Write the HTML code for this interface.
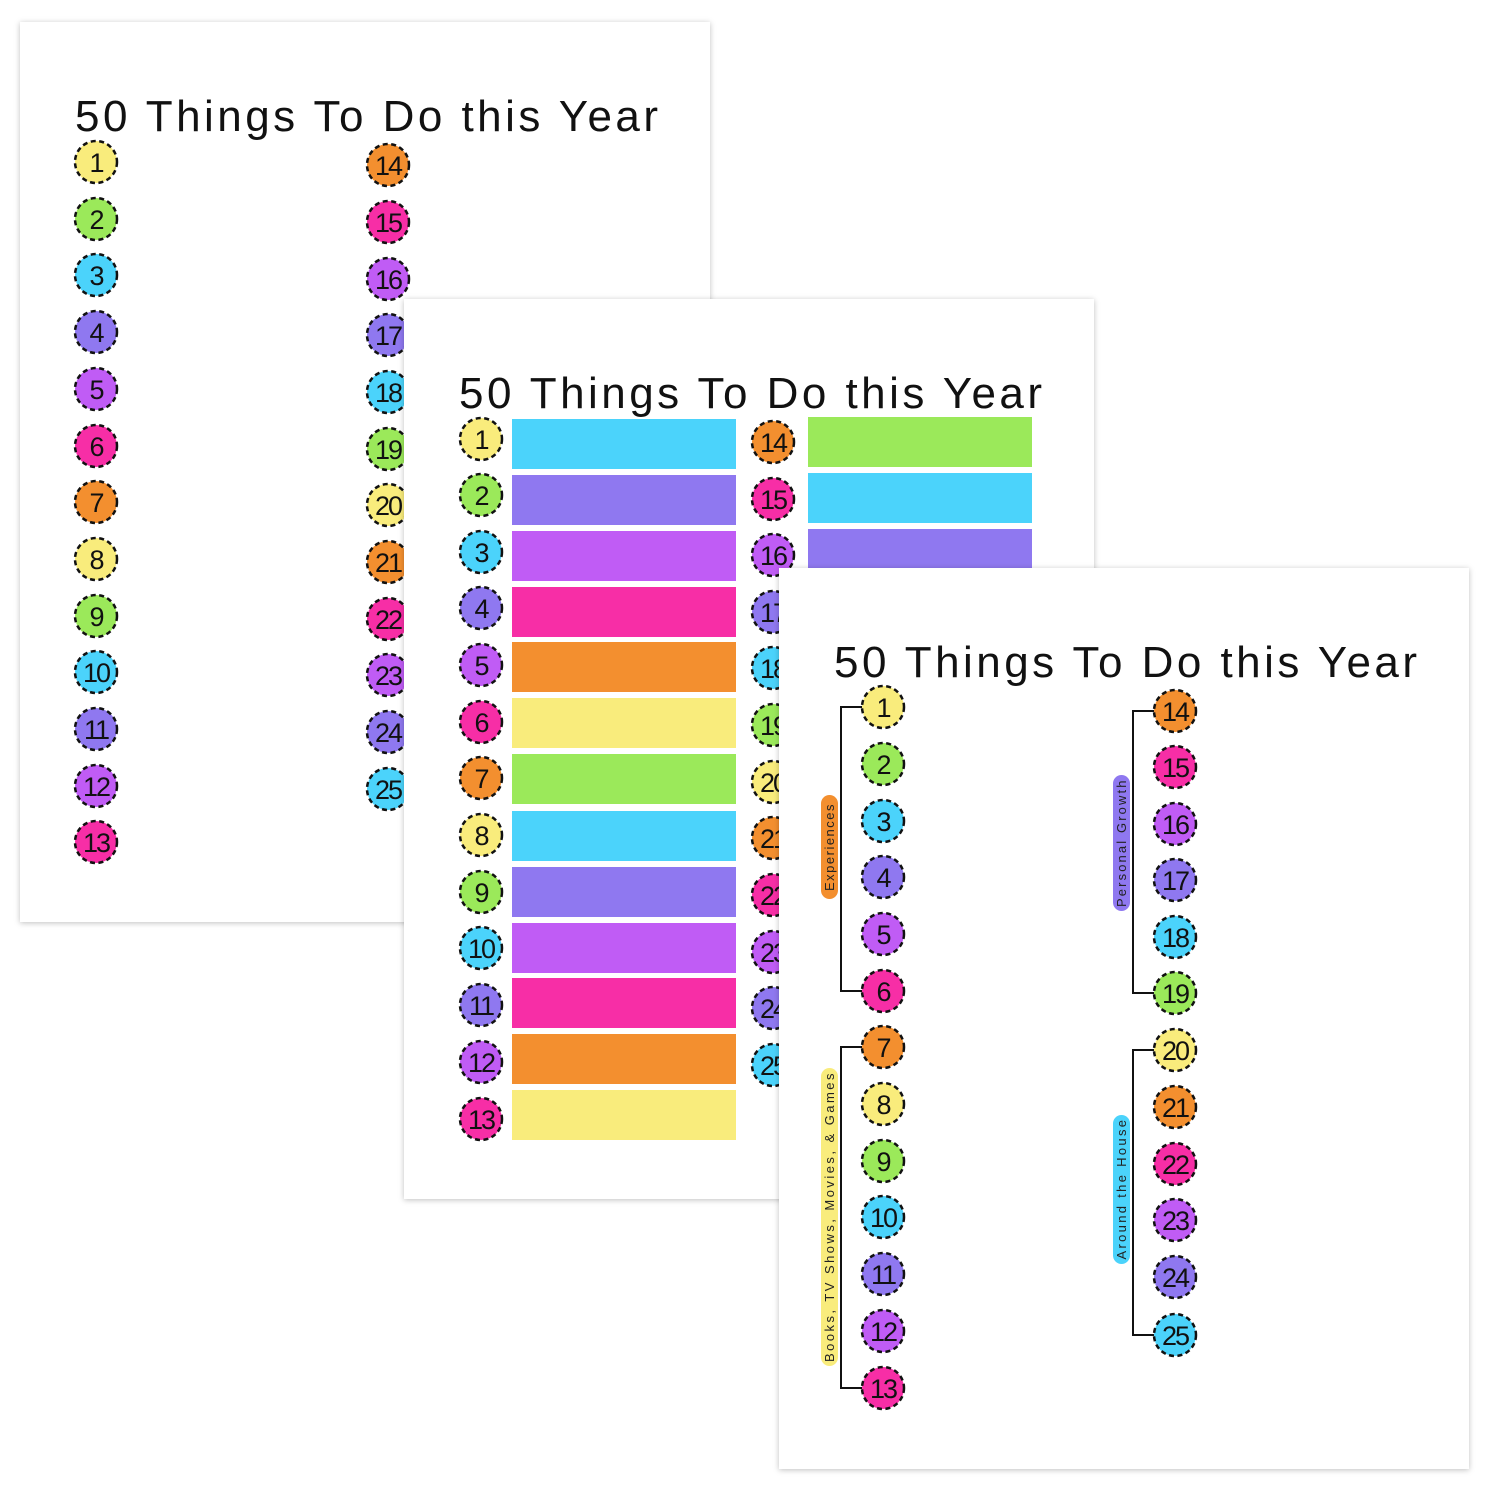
<!DOCTYPE html>
<html><head><meta charset="utf-8"><style>
html,body{margin:0;padding:0;background:#fff;}
svg{display:block;}
.t{font-family:"Liberation Sans",sans-serif;font-size:44px;fill:#111;}
.n{font-family:"Liberation Sans",sans-serif;font-size:27px;fill:#111;text-anchor:middle;letter-spacing:-2px;}
.c{stroke:#111;stroke-width:2.5;stroke-dasharray:5 3.5;}
.l{font-family:"Liberation Sans",sans-serif;font-size:13px;fill:#222;text-anchor:middle;letter-spacing:1.5px;}
</style></head><body>
<svg width="1500" height="1500" viewBox="0 0 1500 1500">
<defs><filter id="sh" x="-5%" y="-5%" width="110%" height="110%"><feDropShadow dx="0" dy="1" stdDeviation="3" flood-color="#000" flood-opacity="0.25"/></filter></defs>

<!-- Page 1 -->
<rect x="20" y="22" width="690" height="900" fill="#fff" filter="url(#sh)"/>
<text class="t" x="75" y="131" textLength="583">50 Things To Do this Year</text>
<g>
<circle class="c" cx="96" cy="162" r="21" fill="#f9ec7c"/><text class="n" x="96" y="172">1</text>
<circle class="c" cx="96" cy="219" r="21" fill="#9be95a"/><text class="n" x="96" y="229">2</text>
<circle class="c" cx="96" cy="275" r="21" fill="#4bd3fb"/><text class="n" x="96" y="285">3</text>
<circle class="c" cx="96" cy="332" r="21" fill="#8f78f0"/><text class="n" x="96" y="342">4</text>
<circle class="c" cx="96" cy="389" r="21" fill="#c05cf5"/><text class="n" x="96" y="399">5</text>
<circle class="c" cx="96" cy="446" r="21" fill="#f72ea6"/><text class="n" x="96" y="456">6</text>
<circle class="c" cx="96" cy="502" r="21" fill="#f38f2f"/><text class="n" x="96" y="512">7</text>
<circle class="c" cx="96" cy="559" r="21" fill="#f9ec7c"/><text class="n" x="96" y="569">8</text>
<circle class="c" cx="96" cy="616" r="21" fill="#9be95a"/><text class="n" x="96" y="626">9</text>
<circle class="c" cx="96" cy="672" r="21" fill="#4bd3fb"/><text class="n" x="96" y="682">10</text>
<circle class="c" cx="96" cy="729" r="21" fill="#8f78f0"/><text class="n" x="96" y="739">11</text>
<circle class="c" cx="96" cy="786" r="21" fill="#c05cf5"/><text class="n" x="96" y="796">12</text>
<circle class="c" cx="96" cy="842" r="21" fill="#f72ea6"/><text class="n" x="96" y="852">13</text>
<circle class="c" cx="388" cy="165" r="21" fill="#f38f2f"/><text class="n" x="388" y="175">14</text>
<circle class="c" cx="388" cy="222" r="21" fill="#f72ea6"/><text class="n" x="388" y="232">15</text>
<circle class="c" cx="388" cy="279" r="21" fill="#c05cf5"/><text class="n" x="388" y="289">16</text>
<circle class="c" cx="388" cy="335" r="21" fill="#8f78f0"/><text class="n" x="388" y="345">17</text>
<circle class="c" cx="388" cy="392" r="21" fill="#4bd3fb"/><text class="n" x="388" y="402">18</text>
<circle class="c" cx="388" cy="449" r="21" fill="#9be95a"/><text class="n" x="388" y="459">19</text>
<circle class="c" cx="388" cy="505" r="21" fill="#f9ec7c"/><text class="n" x="388" y="515">20</text>
<circle class="c" cx="388" cy="562" r="21" fill="#f38f2f"/><text class="n" x="388" y="572">21</text>
<circle class="c" cx="388" cy="619" r="21" fill="#f72ea6"/><text class="n" x="388" y="629">22</text>
<circle class="c" cx="388" cy="675" r="21" fill="#c05cf5"/><text class="n" x="388" y="685">23</text>
<circle class="c" cx="388" cy="732" r="21" fill="#8f78f0"/><text class="n" x="388" y="742">24</text>
<circle class="c" cx="388" cy="789" r="21" fill="#4bd3fb"/><text class="n" x="388" y="799">25</text>
</g>

<!-- Page 2 -->
<rect x="404" y="299" width="690" height="900" fill="#fff" filter="url(#sh)"/>
<text class="t" x="459" y="408" textLength="583">50 Things To Do this Year</text>
<g>
<rect x="512" y="419" width="224" height="50" fill="#4bd3fb"/>
<rect x="512" y="475" width="224" height="50" fill="#8f78f0"/>
<rect x="512" y="531" width="224" height="50" fill="#c05cf5"/>
<rect x="512" y="587" width="224" height="50" fill="#f72ea6"/>
<rect x="512" y="642" width="224" height="50" fill="#f38f2f"/>
<rect x="512" y="698" width="224" height="50" fill="#f9ec7c"/>
<rect x="512" y="754" width="224" height="50" fill="#9be95a"/>
<rect x="512" y="811" width="224" height="50" fill="#4bd3fb"/>
<rect x="512" y="867" width="224" height="50" fill="#8f78f0"/>
<rect x="512" y="923" width="224" height="50" fill="#c05cf5"/>
<rect x="512" y="978" width="224" height="50" fill="#f72ea6"/>
<rect x="512" y="1034" width="224" height="50" fill="#f38f2f"/>
<rect x="512" y="1090" width="224" height="50" fill="#f9ec7c"/>
<rect x="808" y="417" width="224" height="50" fill="#9be95a"/>
<rect x="808" y="473" width="224" height="50" fill="#4bd3fb"/>
<rect x="808" y="529" width="224" height="50" fill="#8f78f0"/>
<circle class="c" cx="481" cy="439" r="21" fill="#f9ec7c"/><text class="n" x="481" y="449">1</text>
<circle class="c" cx="481" cy="495" r="21" fill="#9be95a"/><text class="n" x="481" y="505">2</text>
<circle class="c" cx="481" cy="552" r="21" fill="#4bd3fb"/><text class="n" x="481" y="562">3</text>
<circle class="c" cx="481" cy="608" r="21" fill="#8f78f0"/><text class="n" x="481" y="618">4</text>
<circle class="c" cx="481" cy="665" r="21" fill="#c05cf5"/><text class="n" x="481" y="675">5</text>
<circle class="c" cx="481" cy="722" r="21" fill="#f72ea6"/><text class="n" x="481" y="732">6</text>
<circle class="c" cx="481" cy="778" r="21" fill="#f38f2f"/><text class="n" x="481" y="788">7</text>
<circle class="c" cx="481" cy="835" r="21" fill="#f9ec7c"/><text class="n" x="481" y="845">8</text>
<circle class="c" cx="481" cy="892" r="21" fill="#9be95a"/><text class="n" x="481" y="902">9</text>
<circle class="c" cx="481" cy="948" r="21" fill="#4bd3fb"/><text class="n" x="481" y="958">10</text>
<circle class="c" cx="481" cy="1005" r="21" fill="#8f78f0"/><text class="n" x="481" y="1015">11</text>
<circle class="c" cx="481" cy="1062" r="21" fill="#c05cf5"/><text class="n" x="481" y="1072">12</text>
<circle class="c" cx="481" cy="1119" r="21" fill="#f72ea6"/><text class="n" x="481" y="1129">13</text>
<circle class="c" cx="773" cy="442" r="21" fill="#f38f2f"/><text class="n" x="773" y="452">14</text>
<circle class="c" cx="773" cy="499" r="21" fill="#f72ea6"/><text class="n" x="773" y="509">15</text>
<circle class="c" cx="773" cy="555" r="21" fill="#c05cf5"/><text class="n" x="773" y="565">16</text>
<circle class="c" cx="773" cy="612" r="21" fill="#8f78f0"/><text class="n" x="773" y="622">17</text>
<circle class="c" cx="773" cy="668" r="21" fill="#4bd3fb"/><text class="n" x="773" y="678">18</text>
<circle class="c" cx="773" cy="725" r="21" fill="#9be95a"/><text class="n" x="773" y="735">19</text>
<circle class="c" cx="773" cy="782" r="21" fill="#f9ec7c"/><text class="n" x="773" y="792">20</text>
<circle class="c" cx="773" cy="838" r="21" fill="#f38f2f"/><text class="n" x="773" y="848">21</text>
<circle class="c" cx="773" cy="895" r="21" fill="#f72ea6"/><text class="n" x="773" y="905">22</text>
<circle class="c" cx="773" cy="952" r="21" fill="#c05cf5"/><text class="n" x="773" y="962">23</text>
<circle class="c" cx="773" cy="1008" r="21" fill="#8f78f0"/><text class="n" x="773" y="1018">24</text>
<circle class="c" cx="773" cy="1065" r="21" fill="#4bd3fb"/><text class="n" x="773" y="1075">25</text>
</g>

<!-- Page 3 -->
<rect x="779" y="568" width="690" height="901" fill="#fff" filter="url(#sh)"/>
<text class="t" x="834" y="677" textLength="583">50 Things To Do this Year</text>
<g fill="none" stroke="#111" stroke-width="2">
<path d="M862 707 H841 V991 H862"/>
<path d="M862 1047 H841 V1388 H862"/>
<path d="M1154 711 H1133 V993 H1154"/>
<path d="M1154 1050 H1133 V1335 H1154"/>
</g>
<rect x="821" y="795" width="17" height="104" rx="8.5" fill="#f38f2f"/>
<text class="l" transform="translate(834,847) rotate(-90)">Experiences</text>
<rect x="821" y="1068" width="17" height="298" rx="8.5" fill="#f9ec7c"/>
<text class="l" transform="translate(834,1217) rotate(-90)" textLength="290">Books, TV Shows, Movies, &amp; Games</text>
<rect x="1113" y="775" width="17" height="136" rx="8.5" fill="#8f78f0"/>
<text class="l" transform="translate(1126,843) rotate(-90)" textLength="128">Personal Growth</text>
<rect x="1113" y="1115" width="17" height="149" rx="8.5" fill="#4bd3fb"/>
<text class="l" transform="translate(1126,1189) rotate(-90)" textLength="141">Around the House</text>
<g>
<circle class="c" cx="883" cy="707" r="21" fill="#f9ec7c"/><text class="n" x="883" y="717">1</text>
<circle class="c" cx="883" cy="764" r="21" fill="#9be95a"/><text class="n" x="883" y="774">2</text>
<circle class="c" cx="883" cy="821" r="21" fill="#4bd3fb"/><text class="n" x="883" y="831">3</text>
<circle class="c" cx="883" cy="877" r="21" fill="#8f78f0"/><text class="n" x="883" y="887">4</text>
<circle class="c" cx="883" cy="934" r="21" fill="#c05cf5"/><text class="n" x="883" y="944">5</text>
<circle class="c" cx="883" cy="991" r="21" fill="#f72ea6"/><text class="n" x="883" y="1001">6</text>
<circle class="c" cx="883" cy="1047" r="21" fill="#f38f2f"/><text class="n" x="883" y="1057">7</text>
<circle class="c" cx="883" cy="1104" r="21" fill="#f9ec7c"/><text class="n" x="883" y="1114">8</text>
<circle class="c" cx="883" cy="1161" r="21" fill="#9be95a"/><text class="n" x="883" y="1171">9</text>
<circle class="c" cx="883" cy="1217" r="21" fill="#4bd3fb"/><text class="n" x="883" y="1227">10</text>
<circle class="c" cx="883" cy="1274" r="21" fill="#8f78f0"/><text class="n" x="883" y="1284">11</text>
<circle class="c" cx="883" cy="1331" r="21" fill="#c05cf5"/><text class="n" x="883" y="1341">12</text>
<circle class="c" cx="883" cy="1388" r="21" fill="#f72ea6"/><text class="n" x="883" y="1398">13</text>
<circle class="c" cx="1175" cy="711" r="21" fill="#f38f2f"/><text class="n" x="1175" y="721">14</text>
<circle class="c" cx="1175" cy="767" r="21" fill="#f72ea6"/><text class="n" x="1175" y="777">15</text>
<circle class="c" cx="1175" cy="824" r="21" fill="#c05cf5"/><text class="n" x="1175" y="834">16</text>
<circle class="c" cx="1175" cy="880" r="21" fill="#8f78f0"/><text class="n" x="1175" y="890">17</text>
<circle class="c" cx="1175" cy="937" r="21" fill="#4bd3fb"/><text class="n" x="1175" y="947">18</text>
<circle class="c" cx="1175" cy="993" r="21" fill="#9be95a"/><text class="n" x="1175" y="1003">19</text>
<circle class="c" cx="1175" cy="1050" r="21" fill="#f9ec7c"/><text class="n" x="1175" y="1060">20</text>
<circle class="c" cx="1175" cy="1107" r="21" fill="#f38f2f"/><text class="n" x="1175" y="1117">21</text>
<circle class="c" cx="1175" cy="1164" r="21" fill="#f72ea6"/><text class="n" x="1175" y="1174">22</text>
<circle class="c" cx="1175" cy="1220" r="21" fill="#c05cf5"/><text class="n" x="1175" y="1230">23</text>
<circle class="c" cx="1175" cy="1277" r="21" fill="#8f78f0"/><text class="n" x="1175" y="1287">24</text>
<circle class="c" cx="1175" cy="1335" r="21" fill="#4bd3fb"/><text class="n" x="1175" y="1345">25</text>
</g>
</svg>
</body></html>
